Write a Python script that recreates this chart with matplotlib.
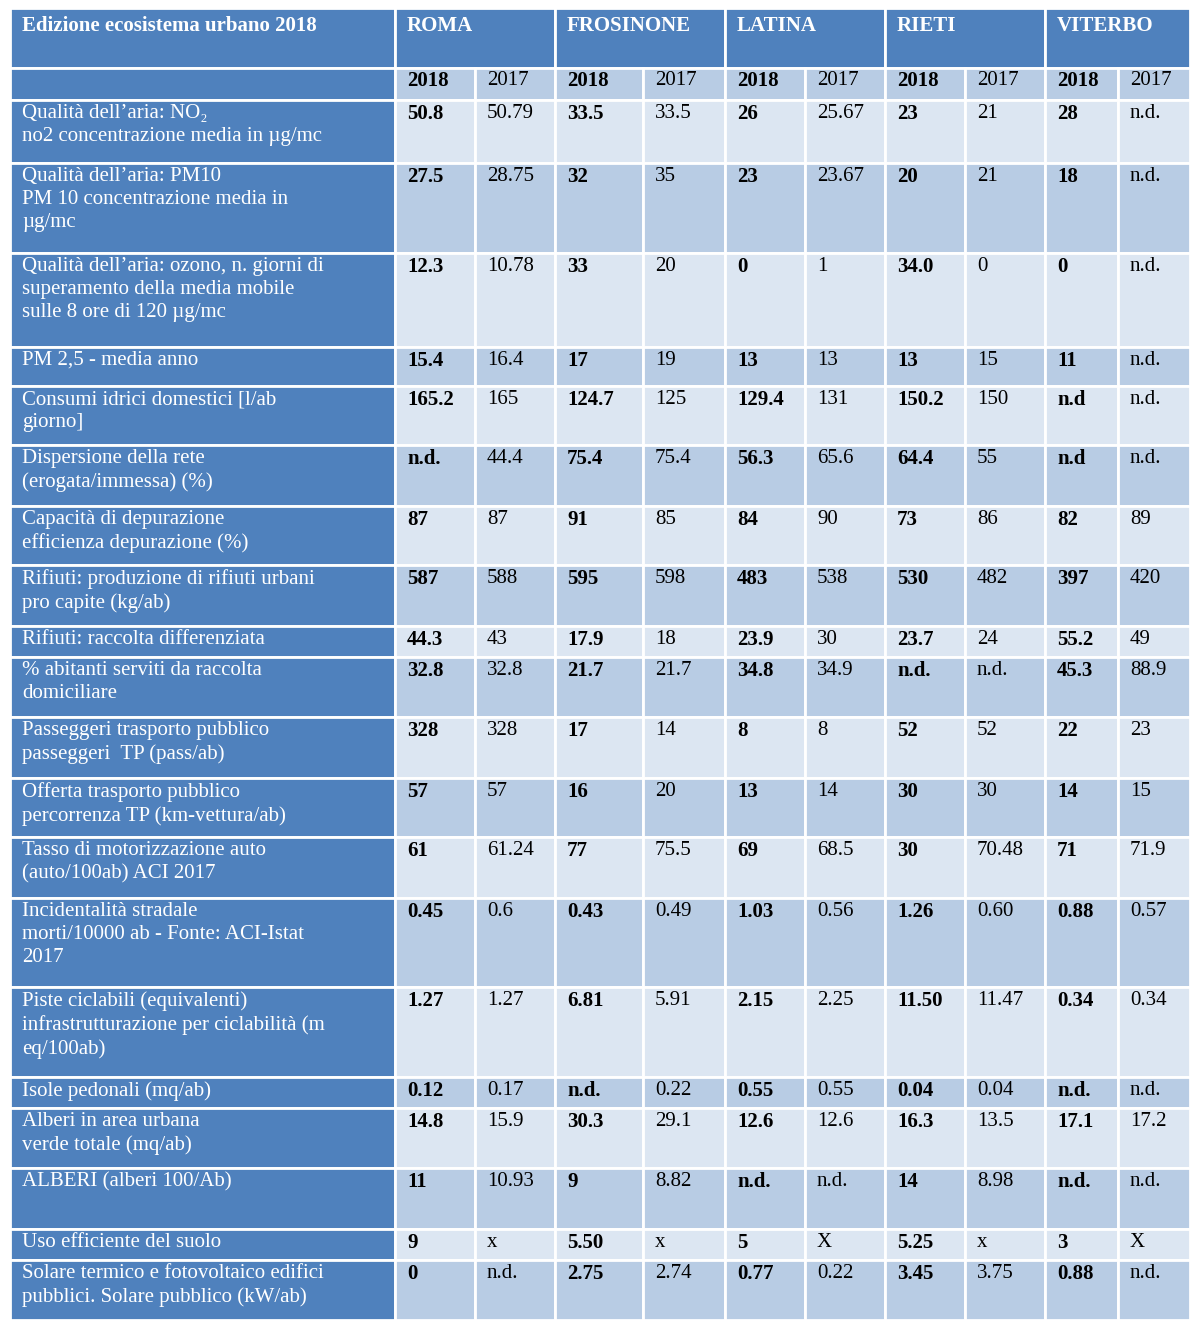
import matplotlib
matplotlib.use("Agg")
import matplotlib.pyplot as plt
from matplotlib.patches import Rectangle

title = "Edizione ecosistema urbano 2018"
cities = ["ROMA", "FROSINONE", "LATINA", "RIETI", "VITERBO"]
years = ["2018", "2017"]
labels = [
    "Qualità dell’aria: NO₂\nno2 concentrazione media in µg/mc",
    "Qualità dell’aria: PM10\nPM 10 concentrazione media in\nµg/mc",
    "Qualità dell’aria: ozono, n. giorni di\nsuperamento della media mobile\nsulle 8 ore di 120 µg/mc",
    "PM 2,5 - media anno",
    "Consumi idrici domestici [l/ab\ngiorno]",
    "Dispersione della rete\n(erogata/immessa) (%)",
    "Capacità di depurazione\nefficienza depurazione (%)",
    "Rifiuti: produzione di rifiuti urbani\npro capite (kg/ab)",
    "Rifiuti: raccolta differenziata",
    "% abitanti serviti da raccolta\ndomiciliare",
    "Passeggeri trasporto pubblico\npasseggeri  TP (pass/ab)",
    "Offerta trasporto pubblico\npercorrenza TP (km-vettura/ab)",
    "Tasso di motorizzazione auto\n(auto/100ab) ACI 2017",
    "Incidentalità stradale\nmorti/10000 ab - Fonte: ACI-Istat\n2017",
    "Piste ciclabili (equivalenti)\ninfrastrutturazione per ciclabilità (m\neq/100ab)",
    "Isole pedonali (mq/ab)",
    "Alberi in area urbana\nverde totale (mq/ab)",
    "ALBERI (alberi 100/Ab)",
    "Uso efficiente del suolo",
    "Solare termico e fotovoltaico edifici\npubblici. Solare pubblico (kW/ab)",
]
values = [
    ["50.8", "50.79", "33.5", "33.5", "26", "25.67", "23", "21", "28", "n.d."],
    ["27.5", "28.75", "32", "35", "23", "23.67", "20", "21", "18", "n.d."],
    ["12.3", "10.78", "33", "20", "0", "1", "34.0", "0", "0", "n.d."],
    ["15.4", "16.4", "17", "19", "13", "13", "13", "15", "11", "n.d."],
    ["165.2", "165", "124.7", "125", "129.4", "131", "150.2", "150", "n.d", "n.d."],
    ["n.d.", "44.4", "75.4", "75.4", "56.3", "65.6", "64.4", "55", "n.d", "n.d."],
    ["87", "87", "91", "85", "84", "90", "73", "86", "82", "89"],
    ["587", "588", "595", "598", "483", "538", "530", "482", "397", "420"],
    ["44.3", "43", "17.9", "18", "23.9", "30", "23.7", "24", "55.2", "49"],
    ["32.8", "32.8", "21.7", "21.7", "34.8", "34.9", "n.d.", "n.d.", "45.3", "88.9"],
    ["328", "328", "17", "14", "8", "8", "52", "52", "22", "23"],
    ["57", "57", "16", "20", "13", "14", "30", "30", "14", "15"],
    ["61", "61.24", "77", "75.5", "69", "68.5", "30", "70.48", "71", "71.9"],
    ["0.45", "0.6", "0.43", "0.49", "1.03", "0.56", "1.26", "0.60", "0.88", "0.57"],
    ["1.27", "1.27", "6.81", "5.91", "2.15", "2.25", "11.50", "11.47", "0.34", "0.34"],
    ["0.12", "0.17", "n.d.", "0.22", "0.55", "0.55", "0.04", "0.04", "n.d.", "n.d."],
    ["14.8", "15.9", "30.3", "29.1", "12.6", "12.6", "16.3", "13.5", "17.1", "17.2"],
    ["11", "10.93", "9", "8.82", "n.d.", "n.d.", "14", "8.98", "n.d.", "n.d."],
    ["9", "x", "5.50", "x", "5", "X", "5.25", "x", "3", "X"],
    ["0", "n.d.", "2.75", "2.74", "0.77", "0.22", "3.45", "3.75", "0.88", "n.d."],
]

xs = [10, 395, 475, 555, 643, 725, 805, 885, 965, 1045, 1118, 1190]
ys = [8, 68, 100, 163, 253, 347, 386, 445, 506, 565, 626, 657, 717, 778,
      837, 898, 987, 1077, 1108, 1168, 1229, 1260, 1320]

DARK = "#4F81BD"
MID = "#B8CCE4"
LIGHT = "#DCE6F2"
FONT = "Liberation Serif"
FS = 15

fig = plt.figure(figsize=(12, 13.31), dpi=100)
ax = fig.add_axes([0, 0, 1, 1])
ax.set_xlim(0, 1200)
ax.set_ylim(1331, 0)
ax.axis("off")

def cell(x0, x1, y0, y1, color):
    ax.add_patch(Rectangle((x0, y0), x1 - x0, y1 - y0, facecolor=color,
                           edgecolor="white", linewidth=2))

# header
cell(xs[0], xs[1], ys[0], ys[1], DARK)
ax.text(xs[0] + 12, ys[0] + 8, title, color="white", fontweight="bold",
        fontsize=FS, family=FONT, va="top")
for i, c in enumerate(cities):
    x0, x1 = xs[1 + 2 * i], xs[3 + 2 * i]
    cell(x0, x1, ys[0], ys[1], DARK)
    ax.text(x0 + 12, ys[0] + 8, c, color="white", fontweight="bold",
            fontsize=FS, family=FONT, va="top")

# year subheader
cell(xs[0], xs[1], ys[1], ys[2], DARK)
for j in range(10):
    cell(xs[1 + j], xs[2 + j], ys[1], ys[2], MID)
    ax.text(xs[1 + j] + 12, ys[1] + 3, years[j % 2], color="black",
            fontweight="bold" if j % 2 == 0 else "normal",
            fontsize=FS, family=FONT, va="top")

# body
for r, (lab, row) in enumerate(zip(labels, values)):
    y0, y1 = ys[2 + r], ys[3 + r]
    bg = LIGHT if r % 2 == 0 else MID
    cell(xs[0], xs[1], y0, y1, DARK)
    ax.text(xs[0] + 12, y0 + 4, lab, color="white", fontsize=FS, family=FONT,
            va="top", linespacing=1.3)
    for j, v in enumerate(row):
        cell(xs[1 + j], xs[2 + j], y0, y1, bg)
        ax.text(xs[1 + j] + 12, y0 + 4, v, color="black",
                fontweight="bold" if j % 2 == 0 else "normal",
                fontsize=FS, family=FONT, va="top")

fig.savefig("out.png", dpi=100, facecolor="white")
